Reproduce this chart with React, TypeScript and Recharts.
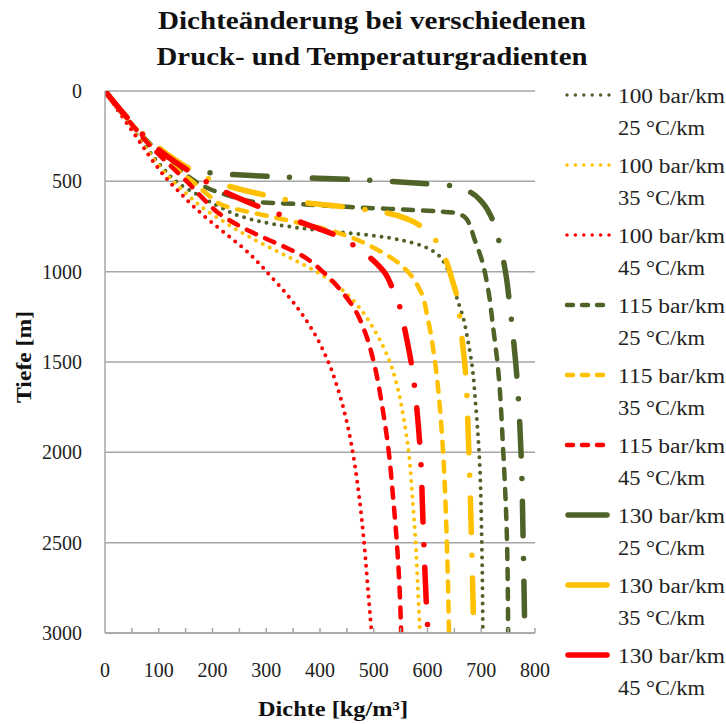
import React from 'react';
import { LineChart, Line, XAxis, YAxis, CartesianGrid } from 'recharts';

const GREEN = '#4F6228';
const YELLOW = '#FFC000';
const RED = '#FF0000';
const GRID = '#a6a6a6';
const FONT = '"Liberation Serif", "Times New Roman", serif';

const xTicks = [0, 50, 100, 150, 200, 250, 300, 350, 400, 450, 500, 550, 600, 650, 700, 750, 800];
const yTicks = [0, 500, 1000, 1500, 2000, 2500, 3000];

// depth [m] / density [kg/m³] per series
const depth100_25 = [0, 150, 300, 420, 509, 576, 642, 692, 725, 747, 764, 780, 803, 830, 863, 908, 969, 1046, 1140, 1251, 1395, 1500, 1750, 2000, 2500, 3000];
const dens100_25 = [0, 36, 74, 106, 136, 173, 214, 251, 292, 335, 378, 432, 506, 558, 595, 620, 634, 646, 654, 666, 676, 682, 690, 696, 701, 703];

const depth100_35 = [0, 150, 300, 437, 548, 659, 714, 797, 863, 935, 1018, 1113, 1229, 1323, 1500, 1650, 1782, 2000, 2250, 2500, 2750, 3000];
const dens100_35 = [0, 35, 72, 107, 144, 188, 216, 262, 304, 352, 403, 446, 481, 501, 530, 545, 554, 565, 572, 578, 582, 586];

const depth100_45 = [0, 150, 288, 400, 476, 565, 648, 731, 808, 869, 940, 1018, 1110, 1212, 1334, 1489, 1655, 1821, 2000, 2225, 2500, 2750, 3000];
const dens100_45 = [0, 34, 66, 92, 112, 140, 168, 200, 232, 257, 282, 306, 334, 361, 388, 414, 434, 449, 461, 472, 482, 489, 496];

const depth115_25 = [0, 150, 315, 437, 509, 548, 581, 614, 625, 642, 675, 685, 700, 730, 808, 935, 1101, 1306, 1500, 2000, 2500, 3000];
const dens115_25 = [0, 40, 92, 140, 173, 199, 233, 279, 353, 456, 652, 662, 670, 677, 686, 701, 713, 722, 730, 741, 748, 750];

const depth115_35 = [0, 150, 315, 437, 509, 565, 642, 692, 725, 769, 808, 863, 930, 1002, 1101, 1267, 1500, 1750, 2000, 2500, 3000];
const dens115_35 = [0, 40, 90, 135, 166, 188, 229, 303, 353, 415, 456, 497, 536, 564, 586, 601, 614, 623, 629, 636, 640];

const depth115_45 = [0, 150, 315, 437, 509, 600, 675, 753, 814, 863, 900, 1005, 1101, 1196, 1362, 1500, 1750, 2000, 2250, 2500, 2750, 3000];
const dens115_45 = [0, 40, 88, 130, 155, 184, 211, 254, 297, 334, 360, 407, 438, 462, 487, 500, 516, 528, 536, 543, 548, 551];

const depth130_25 = [0, 150, 315, 437, 462, 476, 490, 515, 526, 559, 614, 681, 769, 880, 1018, 1157, 1378, 1500, 2000, 2500, 3000];
const dens130_25 = [0, 42, 100, 162, 236, 330, 460, 605, 651, 679, 701, 716, 727, 737, 746, 752, 760, 764, 774, 778, 781];

const depth130_35 = [0, 150, 315, 437, 526, 576, 620, 642, 675, 714, 753, 830, 935, 1046, 1140, 1251, 1367, 1500, 2000, 2500, 3000];
const dens130_35 = [0, 42, 100, 162, 229, 298, 376, 447, 525, 567, 590, 616, 634, 646, 655, 660, 664, 669, 677, 682, 686];

const depth130_45 = [0, 150, 330, 454, 559, 642, 725, 797, 858, 924, 1000, 1101, 1200, 1323, 1528, 1755, 1970, 2413, 2845, 3000];
const dens130_45 = [0, 42, 102, 162, 223, 288, 363, 428, 465, 494, 519, 536, 549, 558, 571, 580, 586, 592, 598, 601];

const pressureLabels = ['100 bar/km', '100 bar/km', '100 bar/km', '115 bar/km', '115 bar/km', '115 bar/km', '130 bar/km', '130 bar/km', '130 bar/km'];
const tempLabels = ['25 °C/km', '35 °C/km', '45 °C/km', '25 °C/km', '35 °C/km', '45 °C/km', '25 °C/km', '35 °C/km', '45 °C/km'];

type Style = 'dot' | 'dash' | 'dashdot';

const build = (d: number[], r: number[]) => d.map((v, i) => ({ depth: v, rho: r[i] }));

const series: { key: string; data: { depth: number; rho: number }[]; color: string; style: Style }[] = [
  { key: 's1', data: build(depth100_25, dens100_25), color: GREEN, style: 'dot' },
  { key: 's2', data: build(depth100_35, dens100_35), color: YELLOW, style: 'dot' },
  { key: 's3', data: build(depth100_45, dens100_45), color: RED, style: 'dot' },
  { key: 's4', data: build(depth115_25, dens115_25), color: GREEN, style: 'dash' },
  { key: 's5', data: build(depth115_35, dens115_35), color: YELLOW, style: 'dash' },
  { key: 's6', data: build(depth115_45, dens115_45), color: RED, style: 'dash' },
  { key: 's7', data: build(depth130_25, dens130_25), color: GREEN, style: 'dashdot' },
  { key: 's8', data: build(depth130_35, dens130_35), color: YELLOW, style: 'dashdot' },
  { key: 's9', data: build(depth130_45, dens130_45), color: RED, style: 'dashdot' },
];

const lineStyle: Record<Style, { w: number; dash: string }> = {
  dot: { w: 4, dash: '0 7.7' },
  dash: { w: 4.5, dash: '10 10' },
  dashdot: { w: 5.5, dash: '34.5 22.7 0 22.7' },
};

const legendStyle: Record<Style, { w: number; dash?: string }> = {
  dot: { w: 3.5, dash: '0 8.4' },
  dash: { w: 4.5, dash: '6 9' },
  dashdot: { w: 5.5 },
};

const XTick = (props: any) => {
  const { x, y, payload } = props;
  const v = payload.value;
  return (
    <g>
      {v !== 0 && <line x1={x} x2={x} y1={y} y2={y - 5} stroke={GRID} strokeWidth={1.5} />}
      {v % 100 === 0 && (
        <text x={x} y={y + 44} textAnchor="middle" fontFamily={FONT} fontSize={20} fill="#222">
          {v}
        </text>
      )}
    </g>
  );
};

const YTick = (props: any) => {
  const { x, y, payload } = props;
  return (
    <text x={x - 23} y={y + 7} textAnchor="end" fontFamily={FONT} fontSize={20} fill="#222">
      {payload.value}
    </text>
  );
};

export default function App() {
  return (
    <div style={{ position: 'absolute', left: 0, top: 0, width: 726, height: 724, background: '#fff' }}>
      <LineChart width={726} height={724} margin={{ top: 91, right: 191, bottom: 61, left: 45 }}>
        <CartesianGrid vertical={false} stroke={GRID} strokeWidth={1.5} />
        <XAxis
          type="number"
          dataKey="rho"
          domain={[0, 800]}
          ticks={xTicks}
          interval={0}
          allowDataOverflow
          height={30}
          tickSize={0}
          tickMargin={0}
          tickLine={false}
          axisLine={{ stroke: GRID, strokeWidth: 1.5 }}
          tick={<XTick />}
        />
        <YAxis
          type="number"
          dataKey="depth"
          reversed
          domain={[0, 3000]}
          ticks={yTicks}
          interval={0}
          allowDataOverflow
          width={60}
          tickSize={0}
          tickMargin={0}
          tickLine={false}
          axisLine={{ stroke: GRID, strokeWidth: 1.5 }}
          tick={<YTick />}
        />
        {series.map((s) => (
          <Line
            key={s.key}
            data={s.data}
            dataKey="depth"
            type="monotoneY"
            stroke={s.color}
            strokeWidth={lineStyle[s.style].w}
            strokeDasharray={lineStyle[s.style].dash}
            strokeLinecap="round"
            dot={false}
            activeDot={false}
            isAnimationActive={false}
          />
        ))}
      </LineChart>
      <svg width={726} height={724} style={{ position: 'absolute', left: 0, top: 0, pointerEvents: 'none' }}>
        <text x={372} y={29} textAnchor="middle" fontFamily={FONT} fontWeight="bold" fontSize={25} fill="#111" textLength={428} lengthAdjust="spacingAndGlyphs">
          Dichteänderung bei verschiedenen
        </text>
        <text x={372} y={65} textAnchor="middle" fontFamily={FONT} fontWeight="bold" fontSize={25} fill="#111" textLength={431} lengthAdjust="spacingAndGlyphs">
          Druck- und Temperaturgradienten
        </text>
        <text x={333} y={716} textAnchor="middle" fontFamily={FONT} fontWeight="bold" fontSize={21} fill="#111" textLength={150} lengthAdjust="spacingAndGlyphs">
          Dichte [kg/m³]
        </text>
        <text x={0} y={0} transform="translate(31 357) rotate(-90)" textAnchor="middle" fontFamily={FONT} fontWeight="bold" fontSize={21} fill="#111" textLength={92} lengthAdjust="spacingAndGlyphs">
          Tiefe [m]
        </text>
        {series.map((s, i) => {
          const cy = 95 + 70 * i;
          const ls = legendStyle[s.style];
          return (
            <g key={s.key}>
              <line x1={s.style === 'dashdot' ? 568 : 567} x2={s.style === 'dashdot' ? 607 : 609} y1={cy} y2={cy} stroke={s.color} strokeWidth={ls.w} strokeDasharray={ls.dash} strokeLinecap="round" />
              <text x={618} y={cy + 8} fontFamily={FONT} fontSize={20} fill="#222" textLength={107} lengthAdjust="spacingAndGlyphs">
                {pressureLabels[i]}
              </text>
              <text x={618} y={cy + 40} fontFamily={FONT} fontSize={20} fill="#222" textLength={87} lengthAdjust="spacingAndGlyphs">
                {tempLabels[i]}
              </text>
            </g>
          );
        })}
      </svg>
    </div>
  );
}
